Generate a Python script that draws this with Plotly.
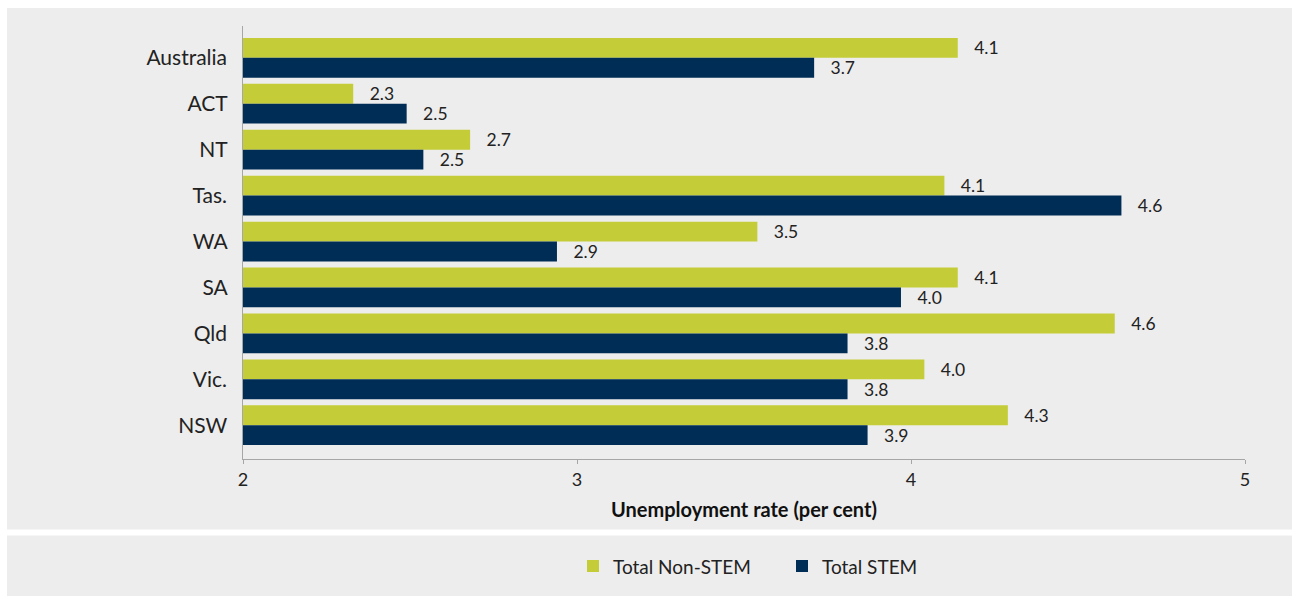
import plotly.graph_objects as go

categories = ["Australia", "ACT", "NT", "Tas.", "WA", "SA", "Qld", "Vic.", "NSW"]
non_stem = [4.14, 2.33, 2.68, 4.10, 3.54, 4.14, 4.61, 4.04, 4.29]
stem = [3.71, 2.49, 2.54, 4.63, 2.94, 3.97, 3.81, 3.81, 3.87]
x_ticks = [2, 3, 4, 5]
series_names = ["Total Non-STEM", "Total STEM"]
x_title = "Unemployment rate (per cent)"

GREEN = "#c4cd37"
NAVY = "#002d55"
FONT = "Lato, 'Noto Sans', sans-serif"
PAD = "\u00a0\u00a0\u00a0"

fig = go.Figure()
for name, vals, col in [(series_names[0], non_stem, GREEN), (series_names[1], stem, NAVY)]:
    fig.add_trace(go.Bar(
        y=categories, x=vals, name=name, orientation="h",
        marker=dict(color=col, line=dict(width=0)),
        texttemplate=PAD + "%{x:.1f}", textposition="outside",
        textfont=dict(family=FONT, size=17.5, color="#222222"),
        constraintext="none", cliponaxis=False,
        hoverinfo="x+y+name",
    ))

L, R, T, B = 243, 47, 26, 135
W, H = 1292, 597
pw = W - L - R
ph = H - T - B

def px(x):
    return (x - L) / pw

def py(y):
    return (H - B - y) / ph

fig.update_layout(
    width=W, height=H,
    margin=dict(l=L, r=R, t=T, b=B, pad=0),
    paper_bgcolor="white",
    plot_bgcolor="rgba(0,0,0,0)",
    barmode="group", bargap=0.135, bargroupgap=0,
    font=dict(family=FONT, color="#222222"),
    showlegend=True,
    legend=dict(orientation="h", x=px(782), xanchor="center", y=py(570), yanchor="middle",
                font=dict(family=FONT, size=19, color="#222222"),
                bgcolor="rgba(0,0,0,0)", itemwidth=30, traceorder="normal",
                entrywidth=164, entrywidthmode="pixels"),
    shapes=[
        dict(type="rect", xref="paper", yref="paper", x0=px(7), x1=px(1292), y0=py(8), y1=py(533),
             fillcolor="#ededed", line=dict(width=0), layer="below"),
        dict(type="rect", xref="paper", yref="paper", x0=px(7), x1=px(1292), y0=py(539), y1=py(600),
             fillcolor="#ededed", line=dict(width=0), layer="below"),
    ],
    xaxis=dict(range=[2, 5], tickvals=x_ticks, ticktext=[str(t) for t in x_ticks],
               showgrid=False, zeroline=False, showline=True, linecolor="#a6a6a6", linewidth=1,
               ticks="outside", ticklen=4, tickcolor="#a6a6a6",
               tickfont=dict(family=FONT, size=18, color="#222222"),
               title=dict(text="<b>" + x_title + "</b>", standoff=14,
                          font=dict(family=FONT, size=20, color="#111111"))),
    yaxis=dict(type="category", categoryorder="array", categoryarray=categories,
               range=[8.735, -0.692], showgrid=False, zeroline=False,
               showline=True, linecolor="#a6a6a6", linewidth=1, ticks="", ticklen=0,
               ticksuffix="  ",
               tickfont=dict(family=FONT, size=21, color="#222222")),
)

fig.write_html("out.html", config={"displayModeBar": False},
               post_script="document.body.style.margin='0';document.body.style.overflow='hidden';")
